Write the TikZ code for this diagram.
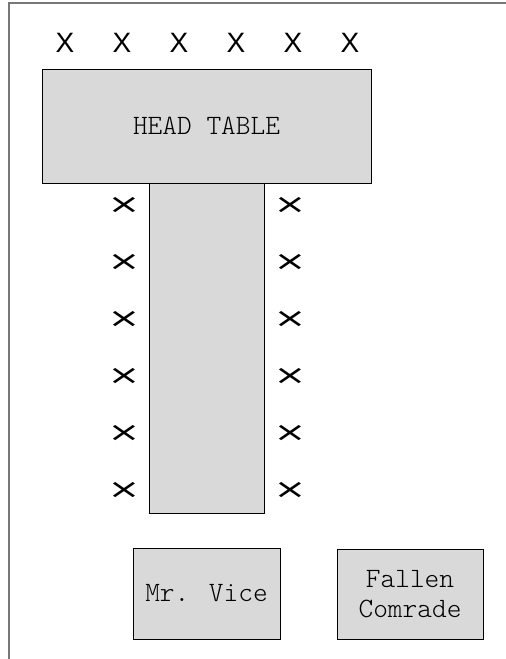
\documentclass[tikz,border=0pt]{standalone}
\usepackage{fontspec}
\setmainfont{Liberation Sans}
\newfontfamily\monof{Latin Modern Mono Light}
\newfontfamily\dejav{DejaVu Sans}
\definecolor{tablegray}{HTML}{D9D9D9}
\definecolor{framegray}{HTML}{777777}
\begin{document}
\begin{tikzpicture}[x=1pt,y=-1pt,
  tablebox/.style={draw=black,line width=1pt,fill=tablegray,rectangle,inner sep=0pt,
    font=\monof\fontsize{28}{30}\selectfont,align=center},
  topseat/.style={inner sep=0pt,font=\fontsize{28}{30}\selectfont},
  sideseat/.style={inner sep=0pt,font=\dejav\fontsize{27}{30}\selectfont}]
\useasboundingbox (0,0) rectangle (506,659);
\draw[framegray,line width=2pt] (9,659) -- (9,3) -- (506,3);
\node[tablebox,minimum width=329pt,minimum height=114pt] (head) at (206.5,126) {HEAD TABLE};
\node[tablebox,minimum width=115pt,minimum height=330pt] (stem) at (206.5,348) {};
\node[tablebox,minimum width=147pt,minimum height=91pt] (vice) at (206.5,593.5) {Mr. Vice};
\node[tablebox,minimum width=146pt,minimum height=90pt] (fallen) at (410,594) {Fallen\\Comrade};
\foreach \i/\x in {1/65,2/122,3/179,4/236,5/293,6/350}
  \node[topseat] (t\i) at (\x,43) {X};
\foreach \i/\y in {1/205,2/262,3/319,4/376,5/433,6/490}{
  \node[sideseat] (l\i) at (124,\y) {\scalebox{1.45}[1]{×}};
  \node[sideseat] (r\i) at (290,\y) {\scalebox{1.45}[1]{×}};
}
\end{tikzpicture}
\end{document}
